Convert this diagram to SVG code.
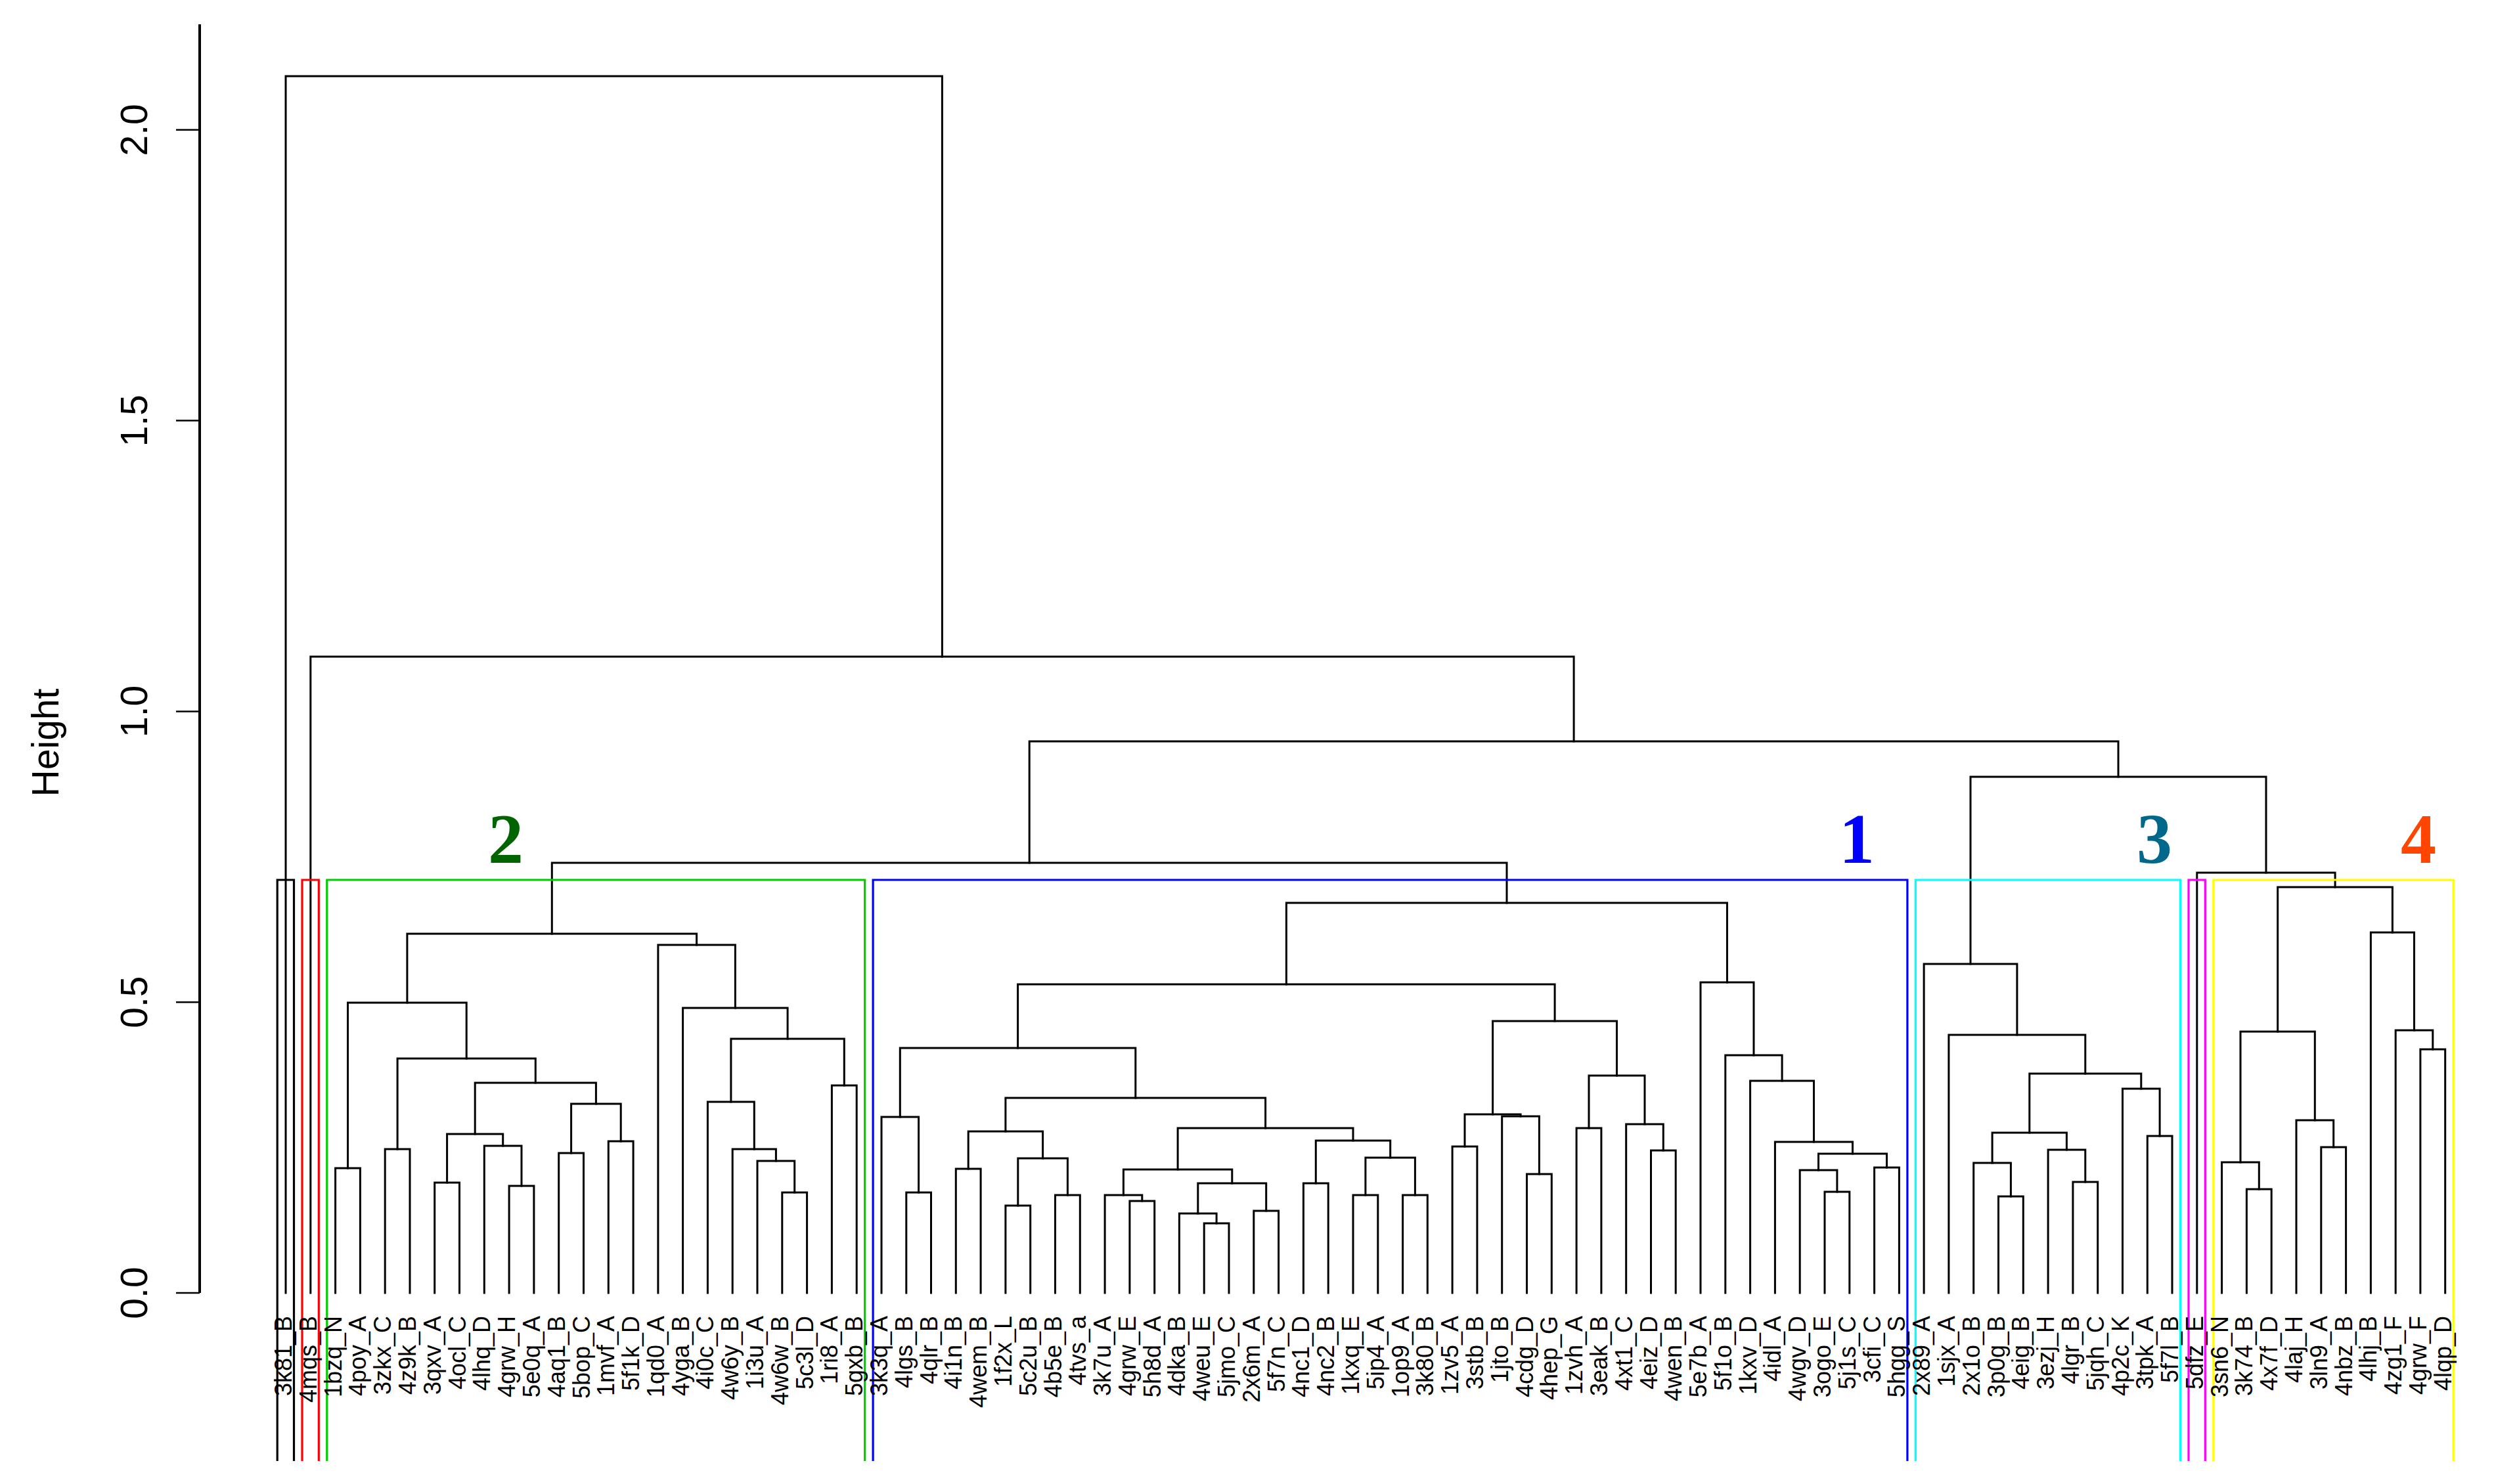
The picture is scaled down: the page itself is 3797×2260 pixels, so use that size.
<svg xmlns="http://www.w3.org/2000/svg" width="3797" height="2260" viewBox="0 0 3797 2260">
<style>
.lf{font-family:"Liberation Sans",Arial,sans-serif;font-size:36px;text-anchor:end;fill:#000}
.ax{font-family:"Liberation Sans",Arial,sans-serif;font-size:57px;text-anchor:middle;fill:#000}
.cl{font-family:"Liberation Serif","Times New Roman",serif;font-weight:bold;font-size:108px;text-anchor:middle}
.tr path{fill:none;stroke:#000;stroke-width:3;stroke-linecap:square}
.rc{fill:none;stroke-width:3.2}
</style>
<rect width="3797" height="2260" fill="#fff"/>
<g id="axis">
<line x1="304" y1="37" x2="304" y2="1969" stroke="#000" stroke-width="4"/>
<g stroke="#000" stroke-width="2.5">
<line x1="268" y1="1969" x2="304" y2="1969"/>
<line x1="268" y1="1526.2" x2="304" y2="1526.2"/>
<line x1="268" y1="1083.4" x2="304" y2="1083.4"/>
<line x1="268" y1="640.6" x2="304" y2="640.6"/>
<line x1="268" y1="197.8" x2="304" y2="197.8"/>
</g>
<text class="ax" transform="translate(224,1969) rotate(-90)">0.0</text>
<text class="ax" transform="translate(224,1526.2) rotate(-90)">0.5</text>
<text class="ax" transform="translate(224,1083.4) rotate(-90)">1.0</text>
<text class="ax" transform="translate(224,640.6) rotate(-90)">1.5</text>
<text class="ax" transform="translate(224,197.8) rotate(-90)">2.0</text>
<text class="ax" transform="translate(89,1131) rotate(-90)">Height</text>
</g>
<g id="connectors" class="tr">
<path d="M435 1969V116H1434.4V1000"/>
<path d="M472.8 1969V1000H2396.1V1129"/>
<path d="M1567.2 1314V1129H3225V1183"/>
<path d="M840.3 1422V1314H2294V1375"/>
<path d="M3000 1468V1183H3450V1329"/>
<path d="M619.9 1527V1422H1060.6V1439"/>
<path d="M529.5 1779V1527H710.2V1612"/>
<path d="M510.6 1969V1779H548.4V1969"/>
<path d="M605.1 1750V1612H815.3V1649"/>
<path d="M586.2 1969V1750H624V1969"/>
<path d="M723.2 1727V1649H907.4V1681"/>
<path d="M680.6 1801V1727H765.7V1745"/>
<path d="M661.7 1969V1801H699.5V1969"/>
<path d="M737.3 1969V1745H794V1806"/>
<path d="M775.1 1969V1806H812.9V1969"/>
<path d="M869.6 1756V1681H945.2V1738"/>
<path d="M850.7 1969V1756H888.5V1969"/>
<path d="M926.3 1969V1738H964.1V1969"/>
<path d="M1001.9 1969V1439H1119.4V1535"/>
<path d="M1039.6 1969V1535H1199.1V1582"/>
<path d="M1112.9 1678V1582H1285.3V1653"/>
<path d="M1077.4 1969V1678H1148.3V1750"/>
<path d="M1115.2 1969V1750H1181.4V1768"/>
<path d="M1153 1969V1768H1209.7V1816"/>
<path d="M1190.8 1969V1816H1228.6V1969"/>
<path d="M1266.4 1969V1653H1304.2V1969"/>
<path d="M1958.4 1499V1375H2629.5V1496"/>
<path d="M1549.6 1596V1499H2367.1V1555"/>
<path d="M1370.3 1701V1596H1728.8V1672"/>
<path d="M1342 1969V1701H1398.6V1816"/>
<path d="M1379.8 1969V1816H1417.5V1969"/>
<path d="M1530.9 1723V1672H1926.6V1718"/>
<path d="M1474.2 1780V1723H1587.6V1764"/>
<path d="M1455.3 1969V1780H1493.1V1969"/>
<path d="M1549.8 1836V1764H1625.4V1820"/>
<path d="M1530.9 1969V1836H1568.7V1969"/>
<path d="M1606.5 1969V1820H1644.3V1969"/>
<path d="M1793.1 1781V1718H2060V1737"/>
<path d="M1710.4 1820V1781H1875.8V1802"/>
<path d="M1682.1 1969V1820H1738.8V1829"/>
<path d="M1719.9 1969V1829H1757.7V1969"/>
<path d="M1823.8 1848V1802H1927.7V1844"/>
<path d="M1795.4 1969V1848H1852.1V1863"/>
<path d="M1833.2 1969V1863H1871V1969"/>
<path d="M1908.8 1969V1844H1946.6V1969"/>
<path d="M2003.3 1802V1737H2116.7V1763"/>
<path d="M1984.4 1969V1802H2022.2V1969"/>
<path d="M2078.9 1820V1763H2154.4V1820"/>
<path d="M2060 1969V1820H2097.8V1969"/>
<path d="M2135.6 1969V1820H2173.3V1969"/>
<path d="M2272.6 1697V1555H2461.5V1638"/>
<path d="M2230 1746V1697H2315.1V1700"/>
<path d="M2211.1 1969V1746H2248.9V1969"/>
<path d="M2286.7 1969V1700H2343.4V1788"/>
<path d="M2324.5 1969V1788H2362.3V1969"/>
<path d="M2419 1718V1638H2504V1712"/>
<path d="M2400.1 1969V1718H2437.9V1969"/>
<path d="M2475.7 1969V1712H2532.3V1752"/>
<path d="M2513.5 1969V1752H2551.2V1969"/>
<path d="M2589 1969V1496H2670V1607"/>
<path d="M2626.8 1969V1607H2713.1V1646"/>
<path d="M2664.6 1969V1646H2761.5V1739"/>
<path d="M2702.4 1969V1739H2820.5V1757"/>
<path d="M2768.5 1782V1757H2872.5V1778"/>
<path d="M2740.2 1969V1782H2796.9V1815"/>
<path d="M2778 1969V1815H2815.8V1969"/>
<path d="M2853.6 1969V1778H2891.4V1969"/>
<path d="M2929.1 1969V1468H3070.9V1576"/>
<path d="M2966.9 1969V1576H3174.8V1635"/>
<path d="M3089.8 1725V1635H3259.8V1658"/>
<path d="M3033.1 1771V1725H3146.4V1751"/>
<path d="M3004.7 1969V1771H3061.4V1822"/>
<path d="M3042.5 1969V1822H3080.3V1969"/>
<path d="M3118.1 1969V1751H3174.8V1800"/>
<path d="M3155.9 1969V1800H3193.7V1969"/>
<path d="M3231.5 1969V1658H3288.1V1730"/>
<path d="M3269.3 1969V1730H3307V1969"/>
<path d="M3344.8 1969V1329H3555.1V1351"/>
<path d="M3467.7 1571V1351H3642.4V1420"/>
<path d="M3411 1770V1571H3524.3V1706"/>
<path d="M3382.6 1969V1770H3439.3V1811"/>
<path d="M3420.4 1969V1811H3458.2V1969"/>
<path d="M3496 1969V1706H3552.7V1747"/>
<path d="M3533.8 1969V1747H3571.6V1969"/>
<path d="M3609.4 1969V1420H3675.5V1569"/>
<path d="M3647.2 1969V1569H3703.8V1598"/>
<path d="M3684.9 1969V1598H3722.7V1969"/>
</g>
<g id="clusters">
<path class="rc" stroke="#000" d="M422.2 2225V1340H447.5V2225"/>
<path class="rc" stroke="#FF0000" d="M460 2225V1340H485.3V2225"/>
<path class="rc" stroke="#00CD00" d="M497.8 2225V1340H1316.7V2225"/>
<path class="rc" stroke="#0000FF" d="M1329.1 2225V1340H2903.9V2225"/>
<path class="rc" stroke="#00FFFF" d="M2916.3 2225V1340H3319.5V2225"/>
<path class="rc" stroke="#FF00FF" d="M3332 2225V1340H3357.3V2225"/>
<path class="rc" stroke="#FFFF00" d="M3369.8 2225V1340H3735.2V2225"/>
<text class="cl" x="770" y="1314" fill="#006400">2</text>
<text class="cl" x="2827" y="1314" fill="#0000FF">1</text>
<text class="cl" x="3280" y="1314" fill="#00688B">3</text>
<text class="cl" x="3682" y="1314" fill="#FF4500">4</text>
</g>
<g id="leaves" class="lf">
<g id="n0" transform="translate(444,2004) rotate(-90)"><text>3k81_B</text></g>
<g id="n1" transform="translate(481.8,2004) rotate(-90)"><text>4mqs_B</text></g>
<g id="n2" transform="translate(519.6,2004) rotate(-90)"><text>1bzq_N</text></g>
<g id="n3" transform="translate(557.4,2004) rotate(-90)"><text>4poy_A</text></g>
<g id="n4" transform="translate(595.2,2004) rotate(-90)"><text>3zkx_C</text></g>
<g id="n5" transform="translate(633,2004) rotate(-90)"><text>4z9k_B</text></g>
<g id="n6" transform="translate(670.7,2004) rotate(-90)"><text>3qxv_A</text></g>
<g id="n7" transform="translate(708.5,2004) rotate(-90)"><text>4ocl_C</text></g>
<g id="n8" transform="translate(746.3,2004) rotate(-90)"><text>4lhq_D</text></g>
<g id="n9" transform="translate(784.1,2004) rotate(-90)"><text>4grw_H</text></g>
<g id="n10" transform="translate(821.9,2004) rotate(-90)"><text>5e0q_A</text></g>
<g id="n11" transform="translate(859.7,2004) rotate(-90)"><text>4aq1_B</text></g>
<g id="n12" transform="translate(897.5,2004) rotate(-90)"><text>5bop_C</text></g>
<g id="n13" transform="translate(935.3,2004) rotate(-90)"><text>1mvf_A</text></g>
<g id="n14" transform="translate(973.1,2004) rotate(-90)"><text>5f1k_D</text></g>
<g id="n15" transform="translate(1010.9,2004) rotate(-90)"><text>1qd0_A</text></g>
<g id="n16" transform="translate(1048.6,2004) rotate(-90)"><text>4yga_B</text></g>
<g id="n17" transform="translate(1086.4,2004) rotate(-90)"><text>4i0c_C</text></g>
<g id="n18" transform="translate(1124.2,2004) rotate(-90)"><text>4w6y_B</text></g>
<g id="n19" transform="translate(1162,2004) rotate(-90)"><text>1i3u_A</text></g>
<g id="n20" transform="translate(1199.8,2004) rotate(-90)"><text>4w6w_B</text></g>
<g id="n21" transform="translate(1237.6,2004) rotate(-90)"><text>5c3l_D</text></g>
<g id="n22" transform="translate(1275.4,2004) rotate(-90)"><text>1ri8_A</text></g>
<g id="n23" transform="translate(1313.2,2004) rotate(-90)"><text>5gxb_B</text></g>
<g id="n24" transform="translate(1351,2004) rotate(-90)"><text>3k3q_A</text></g>
<g id="n25" transform="translate(1388.8,2004) rotate(-90)"><text>4lgs_B</text></g>
<g id="n26" transform="translate(1426.5,2004) rotate(-90)"><text>4qlr_B</text></g>
<g id="n27" transform="translate(1464.3,2004) rotate(-90)"><text>4i1n_B</text></g>
<g id="n28" transform="translate(1502.1,2004) rotate(-90)"><text>4wem_B</text></g>
<g id="n29" transform="translate(1539.9,2004) rotate(-90)"><text>1f2x_L</text></g>
<g id="n30" transform="translate(1577.7,2004) rotate(-90)"><text>5c2u_B</text></g>
<g id="n31" transform="translate(1615.5,2004) rotate(-90)"><text>4b5e_B</text></g>
<g id="n32" transform="translate(1653.3,2004) rotate(-90)"><text>4tvs_a</text></g>
<g id="n33" transform="translate(1691.1,2004) rotate(-90)"><text>3k7u_A</text></g>
<g id="n34" transform="translate(1728.9,2004) rotate(-90)"><text>4grw_E</text></g>
<g id="n35" transform="translate(1766.7,2004) rotate(-90)"><text>5h8d_A</text></g>
<g id="n36" transform="translate(1804.4,2004) rotate(-90)"><text>4dka_B</text></g>
<g id="n37" transform="translate(1842.2,2004) rotate(-90)"><text>4weu_E</text></g>
<g id="n38" transform="translate(1880,2004) rotate(-90)"><text>5jmo_C</text></g>
<g id="n39" transform="translate(1917.8,2004) rotate(-90)"><text>2x6m_A</text></g>
<g id="n40" transform="translate(1955.6,2004) rotate(-90)"><text>5f7n_C</text></g>
<g id="n41" transform="translate(1993.4,2004) rotate(-90)"><text>4nc1_D</text></g>
<g id="n42" transform="translate(2031.2,2004) rotate(-90)"><text>4nc2_B</text></g>
<g id="n43" transform="translate(2069,2004) rotate(-90)"><text>1kxq_E</text></g>
<g id="n44" transform="translate(2106.8,2004) rotate(-90)"><text>5ip4_A</text></g>
<g id="n45" transform="translate(2144.6,2004) rotate(-90)"><text>1op9_A</text></g>
<g id="n46" transform="translate(2182.3,2004) rotate(-90)"><text>3k80_B</text></g>
<g id="n47" transform="translate(2220.1,2004) rotate(-90)"><text>1zv5_A</text></g>
<g id="n48" transform="translate(2257.9,2004) rotate(-90)"><text>3stb_B</text></g>
<g id="n49" transform="translate(2295.7,2004) rotate(-90)"><text>1jto_B</text></g>
<g id="n50" transform="translate(2333.5,2004) rotate(-90)"><text>4cdg_D</text></g>
<g id="n51" transform="translate(2371.3,2004) rotate(-90)"><text>4hep_G</text></g>
<g id="n52" transform="translate(2409.1,2004) rotate(-90)"><text>1zvh_A</text></g>
<g id="n53" transform="translate(2446.9,2004) rotate(-90)"><text>3eak_B</text></g>
<g id="n54" transform="translate(2484.7,2004) rotate(-90)"><text>4xt1_C</text></g>
<g id="n55" transform="translate(2522.5,2004) rotate(-90)"><text>4eiz_D</text></g>
<g id="n56" transform="translate(2560.2,2004) rotate(-90)"><text>4wen_B</text></g>
<g id="n57" transform="translate(2598,2004) rotate(-90)"><text>5e7b_A</text></g>
<g id="n58" transform="translate(2635.8,2004) rotate(-90)"><text>5f1o_B</text></g>
<g id="n59" transform="translate(2673.6,2004) rotate(-90)"><text>1kxv_D</text></g>
<g id="n60" transform="translate(2711.4,2004) rotate(-90)"><text>4idl_A</text></g>
<g id="n61" transform="translate(2749.2,2004) rotate(-90)"><text>4wgv_D</text></g>
<g id="n62" transform="translate(2787,2004) rotate(-90)"><text>3ogo_E</text></g>
<g id="n63" transform="translate(2824.8,2004) rotate(-90)"><text>5j1s_C</text></g>
<g id="n64" transform="translate(2862.6,2004) rotate(-90)"><text>3cfi_C</text></g>
<g id="n65" transform="translate(2900.4,2004) rotate(-90)"><text>5hgg_S</text></g>
<g id="n66" transform="translate(2938.1,2004) rotate(-90)"><text>2x89_A</text></g>
<g id="n67" transform="translate(2975.9,2004) rotate(-90)"><text>1sjx_A</text></g>
<g id="n68" transform="translate(3013.7,2004) rotate(-90)"><text>2x1o_B</text></g>
<g id="n69" transform="translate(3051.5,2004) rotate(-90)"><text>3p0g_B</text></g>
<g id="n70" transform="translate(3089.3,2004) rotate(-90)"><text>4eig_B</text></g>
<g id="n71" transform="translate(3127.1,2004) rotate(-90)"><text>3ezj_H</text></g>
<g id="n72" transform="translate(3164.9,2004) rotate(-90)"><text>4lgr_B</text></g>
<g id="n73" transform="translate(3202.7,2004) rotate(-90)"><text>5jqh_C</text></g>
<g id="n74" transform="translate(3240.5,2004) rotate(-90)"><text>4p2c_K</text></g>
<g id="n75" transform="translate(3278.3,2004) rotate(-90)"><text>3tpk_A</text></g>
<g id="n76" transform="translate(3316,2004) rotate(-90)"><text>5f7l_B</text></g>
<g id="n77" transform="translate(3353.8,2004) rotate(-90)"><text>5dfz_E</text></g>
<g id="n78" transform="translate(3391.6,2004) rotate(-90)"><text>3sn6_N</text></g>
<g id="n79" transform="translate(3429.4,2004) rotate(-90)"><text>3k74_B</text></g>
<g id="n80" transform="translate(3467.2,2004) rotate(-90)"><text>4x7f_D</text></g>
<g id="n81" transform="translate(3505,2004) rotate(-90)"><text>4laj_H</text></g>
<g id="n82" transform="translate(3542.8,2004) rotate(-90)"><text>3ln9_A</text></g>
<g id="n83" transform="translate(3580.6,2004) rotate(-90)"><text>4nbz_B</text></g>
<g id="n84" transform="translate(3618.4,2004) rotate(-90)"><text>4lhj_B</text></g>
<g id="n85" transform="translate(3656.2,2004) rotate(-90)"><text>4zg1_F</text></g>
<g id="n86" transform="translate(3693.9,2004) rotate(-90)"><text>4grw_F</text></g>
<g id="n87" transform="translate(3731.7,2004) rotate(-90)"><text>4lqp_D</text></g>
</g>
</svg>
